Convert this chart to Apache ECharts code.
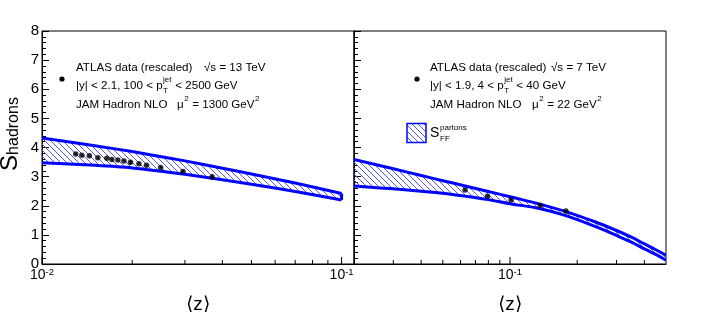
<!DOCTYPE html>
<html><head><meta charset="utf-8">
<script src="https://cdn.jsdelivr.net/npm/echarts@6/dist/echarts.min.js"></script>
<style>html,body{margin:0;padding:0;background:#fff}#c{width:709px;height:312px}</style>
</head><body><div id="c"></div>
<script>
const FONT = "'Liberation Sans', Arial, Helvetica, sans-serif";

// ---- Left panel (sqrt(s)=13 TeV) ----
const leftZ   = [0.01296,0.01358,0.01439,0.01536,0.01646,0.01711,0.01792,0.01877,0.01974,0.02106,0.02232,0.02489,0.02955,0.03698];
const leftS   = [3.78,3.73,3.72,3.65,3.63,3.59,3.57,3.54,3.49,3.44,3.39,3.31,3.18,2.99];
const leftErr = [0.03,0.02,0.02,0.02,0.02,0.02,0.02,0.02,0.07,0.02,0.02,0.02,0.03,0.10];
const leftBandZ  = [0.01,0.015,0.02,0.03,0.04,0.05,0.07,0.1];
const leftBandUp = [4.33,4.06,3.86,3.54,3.29,3.09,2.78,2.42];
const leftBandLo = [3.48,3.39,3.30,3.08,2.89,2.74,2.49,2.20];

// ---- Right panel (sqrt(s)=7 TeV) ----
const rightZ   = [0.0629,0.0793,0.1011,0.1368,0.178];
const rightS   = [2.54,2.33,2.20,2.01,1.82];
const rightErr = [0.02,0.02,0.02,0.02,0.02];
const rightBandZ  = [0.02,0.03,0.04,0.05,0.063,0.08,0.1,0.137,0.178,0.24,0.3,0.35,0.4,0.45,0.5];
const rightBandUp = [3.59,3.27,3.04,2.86,2.68,2.49,2.31,2.05,1.80,1.45,1.15,0.92,0.69,0.49,0.30];
const rightBandLo = [2.68,2.58,2.50,2.43,2.33,2.21,2.07,1.90,1.66,1.29,0.98,0.75,0.52,0.33,0.13];

// ---- axis ticks ----
const leftMajor  = [0.01,0.1];
const leftMinor  = [0.02,0.03,0.04,0.05,0.06,0.07,0.08,0.09];
const rightMajor = [0.1];
const rightMinor = [0.03,0.04,0.05,0.06,0.07,0.08,0.09,0.2,0.3,0.4];

// hatch pattern
function makeHatch(){
  const n = 6, c = document.createElement('canvas');
  c.width = n; c.height = n;
  const g = c.getContext('2d');
  g.strokeStyle = '#5555ff'; g.lineWidth = 1;
  g.beginPath();
  [-n,0,n].forEach(x0=>{ g.moveTo(x0-1,-1); g.lineTo(x0+n+1,n+1); });
  g.stroke();
  return c;
}
const hatchImg = makeHatch();
const hatch = {image: hatchImg, repeat: 'repeat'};
const BLUE = '#0000ff';

function bandSeries(gi, zs, up, lo, closeRight, sm){
  return {
    type:'custom', xAxisIndex:gi, yAxisIndex:gi, clip:true, silent:true, z:2,
    data:[[zs[0], up[0]]],
    renderItem(params, api){
      const u = zs.map((z,i)=>api.coord([z, up[i]]));
      const l = zs.map((z,i)=>api.coord([z, lo[i]]));
      const ch = [
        {type:'polygon', shape:{points:u.concat(l.slice().reverse())}, style:{fill:hatch, stroke:null}},
        {type:'polyline', shape:{points:u, smooth:sm}, style:{stroke:BLUE, lineWidth:3, fill:null}},
        {type:'polyline', shape:{points:l, smooth:sm}, style:{stroke:BLUE, lineWidth:3, fill:null}}
      ];
      if (closeRight){
        const a = u[u.length-1], b = l[l.length-1];
        ch.push({type:'line', shape:{x1:a[0],y1:a[1],x2:b[0],y2:b[1]}, style:{stroke:BLUE, lineWidth:3}});
      }
      return {type:'group', children:ch};
    }
  };
}

function pointSeries(gi, zs, ss){
  return {type:'scatter', xAxisIndex:gi, yAxisIndex:gi, symbolSize:5.5, itemStyle:{color:'#000'}, z:5,
    data: zs.map((z,i)=>[z, ss[i]]), silent:true};
}
function errSeries(gi, zs, ss, es){
  return {type:'custom', xAxisIndex:gi, yAxisIndex:gi, z:4, silent:true,
    data: zs.map((z,i)=>[z, ss[i], es[i]]), encode:{x:0,y:1},
    renderItem(params, api){
      const z = api.value(0), s = api.value(1), e = api.value(2);
      const a = api.coord([z, s+e]), b = api.coord([z, s-e]);
      return {type:'line', shape:{x1:a[0],y1:a[1],x2:b[0],y2:b[1]}, style:{stroke:'#000', lineWidth:1.5}};
    }};
}
const labRich = {
  b:{fontSize:14, lineHeight:15, padding:[4,0,0,0], verticalAlign:'bottom', fontFamily:FONT, fill:'#000', color:'#000'},
  s:{fontSize:9.5, lineHeight:10, verticalAlign:'top', fontFamily:FONT, fill:'#000', color:'#000'}
};
function tickSeries(gi, vals, major){
  return {type:'custom', xAxisIndex:gi, yAxisIndex:gi, z:6, silent:true, clip:false,
    data: vals.map(v=>[v, 0]), encode:{x:0,y:1},
    renderItem(params, api){
      const v = api.value(0);
      const p = api.coord([v, 0]);
      const len = major ? 7 : 4;
      const ch = [{type:'line', shape:{x1:p[0],y1:p[1],x2:p[0],y2:p[1]-len}, style:{stroke:'#000', lineWidth:1}}];
      if (major){
        const e = Math.round(Math.log10(v));
        ch.push({type:'text', x:p[0], y:p[1]+3, style:{text:'{b|10}{s|'+e+'}', rich:labRich, align:'center', verticalAlign:'top', fill:'#000'}});
      }
      return {type:'group', children:ch};
    }};
}

// legend text helpers
const mctx = document.createElement('canvas').getContext('2d');
function tw(t, size){ mctx.font = size+'px '+FONT; return mctx.measureText(t).width; }
function txt(x,y,t,size){
  return {type:'text', x:x, y:y, silent:true, style:{text:t, fontSize:size, fontFamily:FONT, fill:'#000', align:'left', verticalAlign:'middle'}};
}
const FS = 11.6;
function seq(x, y, segs){
  const out = []; let cx = x;
  segs.forEach(s=>{
    if (s.t !== undefined){ out.push(txt(cx,y,s.t,FS)); cx += tw(s.t,FS); }
    else {
      let w = 0;
      if (s.sup){ out.push(txt(cx+0.5,y-6,s.sup,8)); w = Math.max(w, tw(s.sup,8)); }
      if (s.sub){ out.push(txt(cx+0.5,y+5,s.sub,8)); w = Math.max(w, tw(s.sub,8)); }
      cx += w + 1;
    }
  });
  return out;
}
function legendBlock(x, dotX, sqrtX, muX, line2, sqrtTxt, muTxt){
  let els = [];
  els = els.concat(seq(x, 68, [{t:'ATLAS data (rescaled)'}]));
  els = els.concat(seq(sqrtX, 68, [{t:sqrtTxt}]));
  els = els.concat(seq(x, 86, line2));
  els = els.concat(seq(x, 105, [{t:'JAM Hadron NLO'}]));
  els = els.concat(seq(muX, 105, muTxt));
  els.push({type:'circle', shape:{cx:dotX, cy:79, r:2.6}, style:{fill:'#000'}, silent:true});
  return els;
}
let graphics = [];
graphics = graphics.concat(legendBlock(76, 62, 204, 177,
  [{t:'|y| < 2.1, 100 < p'},{sup:'jet', sub:'T'},{t:' < 2500 GeV'}], '\u221As = 13 TeV',
  [{t:'\u03BC'},{sup:'2'},{t:' = 1300 GeV'},{sup:'2'}]));
graphics = graphics.concat(legendBlock(430, 417, 551, 532,
  [{t:'|y| < 1.9, 4 < p'},{sup:'jet', sub:'T'},{t:' < 40 GeV'}], '\u221As = 7 TeV',
  [{t:'\u03BC'},{sup:'2'},{t:' = 22 GeV'},{sup:'2'}]));
graphics.push({type:'rect', shape:{x:407, y:123.5, width:19, height:19}, style:{fill:hatch, stroke:BLUE, lineWidth:1.5}, silent:true});
graphics.push(txt(430, 133, 'S', 14));
graphics.push(txt(440, 128, 'partons', 8));
graphics.push(txt(440, 139, 'FF', 8));

const yAxisBase = (gi, labels) => ({
  type:'value', gridIndex:gi, min:0, max:8, interval:1,
  axisLine:{show:true, lineStyle:{color:'#000', width:1}},
  axisTick:{show:true, inside:true, length:7, lineStyle:{color:'#000'}},
  minorTick:{show:true, splitNumber:5, length:4, lineStyle:{color:'#000'}},
  axisLabel:{show:labels, fontSize:15, color:'#000', fontFamily:FONT, margin:3},
  splitLine:{show:false}, minorSplitLine:{show:false}
});
const xAxisBase = (gi, mn, mx) => ({
  type:'log', logBase:10, gridIndex:gi, min:mn, max:mx,
  axisLine:{show:true, lineStyle:{color:'#000', width:1}},
  axisTick:{show:false}, axisLabel:{show:false}, splitLine:{show:false}, minorTick:{show:false},
  name:'\u27E8z\u27E9', nameLocation:'middle', nameGap:31,
  nameTextStyle:{fontSize:19, color:'#000', fontFamily:FONT}
});

const yl = yAxisBase(0, true);
yl.name = '{a|S}{b|hadrons}';
yl.nameLocation = 'middle';
yl.nameRotate = 90;
yl.nameGap = 20;
yl.nameTextStyle = {color:'#000', padding:[0,0,0,27], rich:{
  a:{fontSize:24, lineHeight:24, verticalAlign:'top', fontFamily:FONT, color:'#000'},
  b:{fontSize:16, lineHeight:16, padding:[10,0,0,0], verticalAlign:'bottom', fontFamily:FONT, color:'#000'}
}};

const chart = echarts.init(document.getElementById('c'), null, {renderer:'canvas'});
chart.setOption({
  animation:false,
  backgroundColor:'#fff',
  grid:[
    {left:42, top:31, width:312, height:233, show:true, borderColor:'#000', borderWidth:1, backgroundColor:'transparent', containLabel:false, outerBoundsMode:'none'},
    {left:354, top:31, width:312, height:233, show:true, borderColor:'#000', borderWidth:1, backgroundColor:'transparent', containLabel:false, outerBoundsMode:'none'}
  ],
  xAxis:[xAxisBase(0, 0.01, 0.11), xAxisBase(1, 0.02, 0.5)],
  yAxis:[yl, yAxisBase(1, false)],
  series:[
    bandSeries(0, leftBandZ, leftBandUp, leftBandLo, true, 0.2),
    bandSeries(1, rightBandZ, rightBandUp, rightBandLo, false, 0.4),
    errSeries(0, leftZ, leftS, leftErr),
    errSeries(1, rightZ, rightS, rightErr),
    pointSeries(0, leftZ, leftS),
    pointSeries(1, rightZ, rightS),
    tickSeries(0, leftMajor, true), tickSeries(0, leftMinor, false),
    tickSeries(1, rightMajor, true), tickSeries(1, rightMinor, false)
  ],
  graphic: graphics
});
</script></body></html>
